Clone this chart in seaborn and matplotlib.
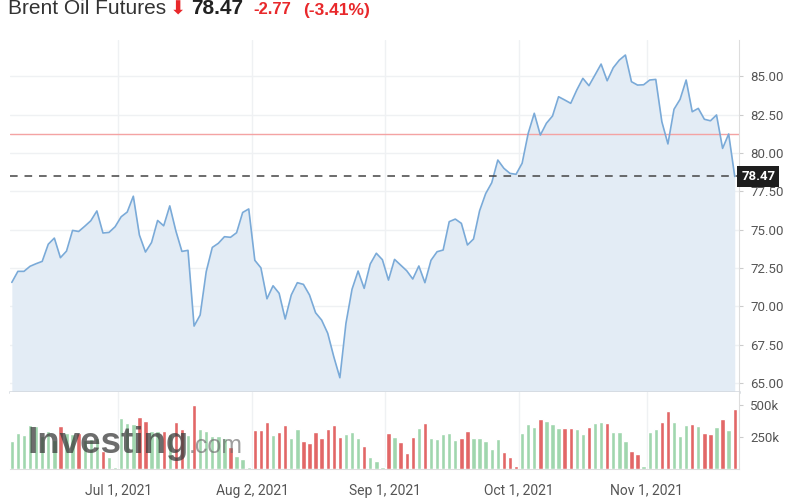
import numpy as np
import pandas as pd
import matplotlib.pyplot as plt
import seaborn as sns

# Daily closes (Jun 7 - Nov 19, 2021, one value per session)
prices = [
    71.56, 72.28, 72.28, 72.61, 72.78, 72.93, 74.05, 74.45, 73.17, 73.60,
    74.95, 74.88, 75.22, 75.58, 76.22, 74.78, 74.82, 75.19, 75.84, 76.15,
    77.18, 74.65, 73.54, 74.16, 75.60, 75.25, 76.55, 74.92, 73.58, 73.65,
    68.71, 69.43, 72.26, 73.84, 74.11, 74.54, 74.50, 74.80, 76.12, 76.35,
    73.00, 72.51, 70.49, 71.34, 70.85, 69.17, 70.74, 71.54, 71.43, 70.74,
    69.58, 69.10, 68.24, 66.71, 65.34, 68.89, 71.11, 72.30, 71.17, 72.76,
    73.46, 73.04, 71.71, 73.06, 72.69, 72.32, 71.78, 72.63, 71.54, 73.00,
    73.56, 73.67, 75.52, 75.69, 75.41, 74.00, 74.39, 76.23, 77.35, 78.06,
    79.54, 79.00, 78.67, 78.61, 79.33, 81.28, 82.59, 81.17, 81.94, 82.41,
    83.67, 83.46, 83.24, 84.11, 84.87, 84.39, 85.09, 85.80, 84.71, 85.56,
    86.06, 86.39, 84.65, 84.43, 84.45, 84.76, 84.80, 82.04, 80.59, 82.85,
    83.50, 84.76, 82.69, 82.91, 82.20, 82.10, 82.48, 80.30, 81.24, 78.47,
]

# Volume in thousands of contracts
volume_k = [
    221, 279, 266, 345, 340, 255, 300, 230, 337, 280,
    275, 284, 230, 235, 240, 139, 94, 10, 398, 359,
    355, 406, 377, 300, 300, 300, 270, 367, 314, 265,
    504, 311, 300, 260, 255, 240, 173, 102, 73, 10,
    306, 306, 367, 266, 292, 345, 240, 314, 221, 200,
    292, 240, 314, 345, 248, 274, 287, 240, 179, 94,
    62, 10, 284, 253, 208, 125, 248, 319, 364, 245,
    234, 271, 279, 226, 245, 300, 245, 245, 218, 155,
    232, 128, 94, 22, 279, 353, 332, 393, 380, 353,
    319, 319, 319, 311, 271, 332, 359, 372, 364, 292,
    292, 218, 141, 115, 20, 292, 311, 372, 459, 372,
    260, 345, 353, 337, 284, 271, 332, 393, 306, 470,
]

# 1 = green (up) bar, 0 = red (down) bar
bar_up = [
    1, 1, 1, 1, 1, 1, 1, 1, 0, 1, 1, 0, 1, 1, 1, 0, 1, 1, 1, 1,
    1, 0, 0, 1, 1, 0, 1, 0, 0, 1, 0, 1, 1, 1, 1, 1, 0, 1, 1, 1,
    0, 0, 0, 1, 0, 0, 1, 1, 0, 0, 0, 0, 0, 0, 0, 1, 1, 1, 0, 1,
    1, 1, 0, 1, 0, 0, 0, 1, 0, 1, 1, 1, 1, 1, 0, 0, 1, 1, 1, 1,
    1, 0, 0, 0, 1, 1, 1, 0, 1, 1, 1, 0, 0, 1, 1, 0, 1, 1, 0, 1,
    1, 1, 0, 0, 1, 1, 1, 0, 0, 1, 1, 1, 0, 1, 0, 0, 1, 0, 1, 0,
]

date_labels = ['Jul 1, 2021', 'Aug 2, 2021', 'Sep 1, 2021', 'Oct 1, 2021', 'Nov 1, 2021']
price_ticks = [65, 67.5, 70, 72.5, 75, 77.5, 80, 82.5, 85]
volume_ticks = [250, 500]
volume_tick_labels = ['250k', '500k']
last_price = 78.47
prev_close = 81.24
change = -2.77
change_pct = -3.41

W, H = 810, 500
LINE = '#7aaad8'
FILL = '#e3ecf5'
GREEN = '#a0d6ae'
RED = '#e26767'
GRID = '#eff1f3'
TXT = '#555555'


def fx(x):
    return x / W


def fy(y):
    return 1 - y / H


def main():
    sns.set_style('white')
    plt.rcParams['font.family'] = ['Roboto', 'DejaVu Sans']

    df = pd.DataFrame({'pos': np.arange(len(prices)), 'price': prices,
                       'vol': volume_k,
                       'dir': ['up' if u else 'down' for u in bar_up]})
    # month ticks sit half a session before the first session of the month
    date_pos = [17.5, 39.6, 61.4, 83.5, 104.5]
    xlim = (-0.3, 119.7)

    fig = plt.figure(figsize=(W / 100, H / 100), dpi=100)
    left, right = fx(10), fx(739)
    ax = fig.add_axes([left, fy(392), right - left, fy(40) - fy(392)])
    axv = fig.add_axes([left, fy(468.5), right - left, fy(392) - fy(468.5)])

    # price panel
    ylo, yhi = 64.41, 87.37
    ax.fill_between(df['pos'], df['price'], ylo, color=FILL, lw=0, zorder=1)
    sns.lineplot(data=df, x='pos', y='price', ax=ax, color=LINE, lw=1.2, zorder=3)
    ax.axhline(prev_close, color='#f4a3a3', lw=1, zorder=2)
    ax.axhline(last_price, color='#444444', lw=1.1, ls=(0, (5, 4.5)), zorder=4)
    ax.set_xlim(*xlim)
    ax.set_ylim(ylo, yhi)
    ax.set_xticks(date_pos)
    ax.set_xticklabels([])
    ax.set_yticks(price_ticks)
    ax.set_yticklabels([f'{t:.2f}' for t in price_ticks])
    ax.yaxis.tick_right()
    ax.tick_params(axis='y', length=3, color='#cccccc', labelsize=9.5,
                   labelcolor=TXT, pad=5)
    ax.tick_params(axis='x', length=0)
    ax.grid(True, color=GRID, lw=1)
    ax.set_axisbelow(True)
    ax.set_xlabel('')
    ax.set_ylabel('')
    for s in ['top', 'left']:
        ax.spines[s].set_visible(False)
    ax.spines['right'].set_color('#dddddd')
    ax.spines['bottom'].set_color('#d3d8de')
    ax.spines['bottom'].set_linewidth(1.8)

    # last price tag
    ax.text(1.003, last_price, f'{last_price:.2f}', transform=ax.get_yaxis_transform(),
            ha='left', va='center', color='white', fontsize=9.5, fontweight='bold',
            zorder=10, clip_on=False,
            bbox=dict(boxstyle='square,pad=0.3', fc='#1e1e1e', ec='none'))

    # volume panel
    sns.barplot(data=df, x='pos', y='vol', hue='dir', palette={'up': GREEN, 'down': RED},
                native_scale=True, width=0.72, saturation=1, legend=False, ax=axv, zorder=3)
    axv.set_xlim(*xlim)
    axv.set_ylim(0, 607)
    axv.set_yticks(volume_ticks)
    axv.set_yticklabels(volume_tick_labels)
    axv.yaxis.tick_right()
    axv.set_xticks(date_pos)
    axv.set_xticklabels(date_labels)
    axv.tick_params(axis='y', length=3, color='#cccccc', labelsize=9.5,
                    labelcolor=TXT, pad=5)
    axv.tick_params(axis='x', length=5, color='#dddddd', labelsize=10,
                    labelcolor=TXT, pad=6)
    axv.grid(True, axis='x', color=GRID, lw=1)
    axv.set_axisbelow(True)
    axv.set_xlabel('')
    axv.set_ylabel('')
    for s in ['top', 'left']:
        axv.spines[s].set_visible(False)
    axv.spines['right'].set_color('#dddddd')
    axv.spines['bottom'].set_color('#dddddd')

    # watermark
    fig.text(fx(28), fy(453), 'Investing', fontsize=26.5, fontweight='bold',
             family=['Liberation Sans', 'DejaVu Sans'], color='#3c3c3c', alpha=0.75,
             va='baseline', zorder=20)
    fig.text(fx(189), fy(453), '.com', fontsize=18,
             family=['Liberation Sans', 'DejaVu Sans'], color='#6a6a6a', alpha=0.65,
             va='baseline', zorder=20)

    # header
    head = ['Liberation Sans', 'DejaVu Sans']
    red = '#e8282b'
    fig.text(fx(8), fy(14.5), 'Brent Oil Futures', fontsize=15, color='#333333',
             family=head, va='baseline')
    fig.text(fx(170), fy(15), '\u2b07', fontsize=14, color=red,
             family=['DejaVu Sans'], va='baseline')
    fig.text(fx(191), fy(14.5), f'{last_price:.2f}', fontsize=15, fontweight='bold',
             color='#222222', family=head, va='baseline')
    fig.text(fx(253), fy(14.5), f'{change:.2f}', fontsize=12, fontweight='bold',
             color=red, family=head, va='baseline')
    fig.text(fx(303), fy(14.5), f'({change_pct:.2f}%)', fontsize=12.5, fontweight='bold',
             color=red, family=head, va='baseline')

    fig.savefig('out.png', dpi=100)
    plt.close(fig)


if __name__ == '__main__':
    main()
